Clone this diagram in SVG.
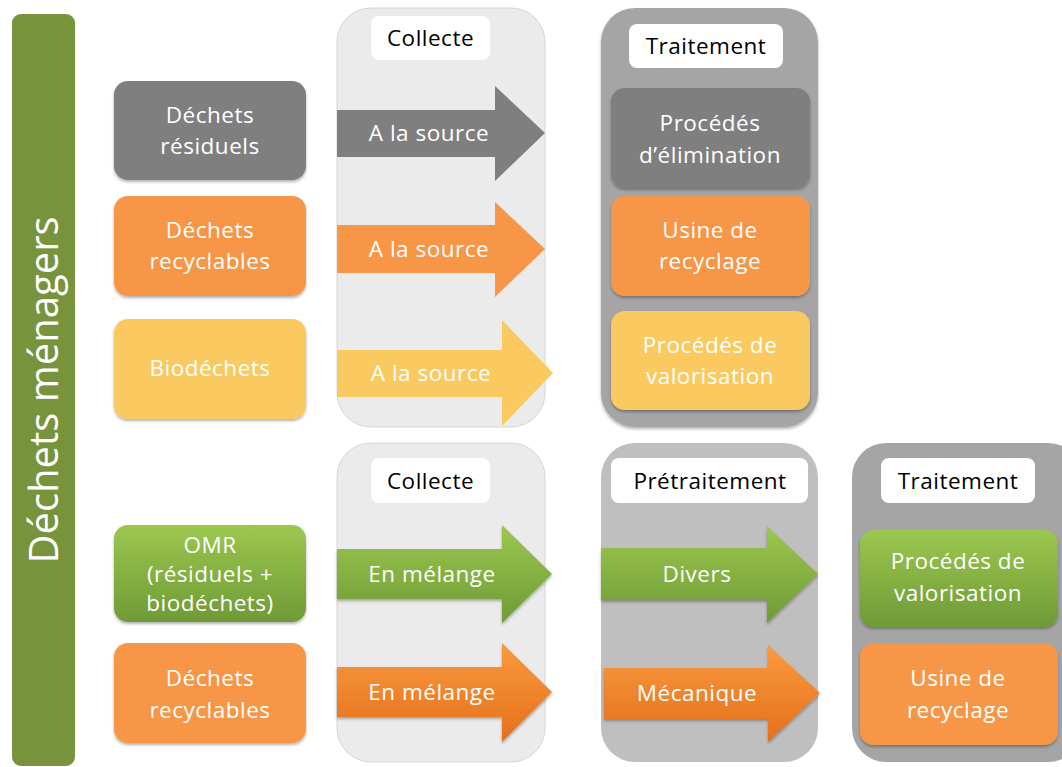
<svg xmlns="http://www.w3.org/2000/svg" width="1062" height="767" viewBox="0 0 1062 767">
<defs>
<style>
text{font-family:"Open Sans","Noto Sans",sans-serif;text-anchor:middle;font-size:22.5px;letter-spacing:0.5px}
.w{fill:#ffffff}
.k{fill:#000000}
.panelL{fill:#EBEBEB;stroke:#D6D6D6;stroke-width:1}
.panelD{fill:#A5A5A5}
.panelM{fill:#BFBFBF}
.lbl{fill:#ffffff}
.gray{fill:#7F7F7F}
.orange{fill:#F79646}
.yellow{fill:#FAC95F}
.green{fill:url(#gGreen)}
.orangeG{fill:url(#gOrange)}
</style>
<linearGradient id="gGreen" x1="0" y1="0" x2="0" y2="1">
<stop offset="0" stop-color="#9CC74F"/>
<stop offset="1" stop-color="#6F9A36"/>
</linearGradient>
<linearGradient id="gOrange" x1="0" y1="0" x2="0" y2="1">
<stop offset="0" stop-color="#FA9A3E"/>
<stop offset="1" stop-color="#E4701C"/>
</linearGradient>
<filter id="sh" x="-10%" y="-10%" width="120%" height="130%">
<feDropShadow dx="0" dy="2" stdDeviation="1.5" flood-color="#000" flood-opacity="0.3"/>
</filter>
</defs>

<g id="title">
<rect x="12" y="14" width="63" height="752" rx="9" fill="#77933C"/>
<text class="w" x="0" y="0" transform="translate(58,390) rotate(-90)" style="font-size:40px;letter-spacing:0">Déchets ménagers</text>
</g>

<g id="panels">
<rect class="panelL" x="337" y="8" width="208" height="419" rx="34"/>
<rect class="lbl" x="371" y="16" width="119" height="44" rx="8"/>
<text class="k" x="430.5" y="46">Collecte</text>
<rect class="panelD" x="601" y="8" width="217" height="419" rx="34" filter="url(#sh)"/>
<rect class="lbl" x="629" y="24" width="154" height="44" rx="8"/>
<text class="k" x="706" y="54">Traitement</text>

<rect class="panelL" x="337" y="443" width="208" height="319" rx="34"/>
<rect class="lbl" x="371" y="458" width="119" height="45" rx="8"/>
<text class="k" x="430.5" y="489">Collecte</text>
<rect class="panelM" x="601" y="443" width="217" height="319" rx="34"/>
<rect class="lbl" x="611" y="458" width="197" height="45" rx="8"/>
<text class="k" x="710" y="489">Prétraitement</text>
<rect class="panelD" x="852" y="443" width="230" height="319" rx="34"/>
<rect class="lbl" x="881" y="458" width="154" height="45" rx="8"/>
<text class="k" x="958" y="489">Traitement</text>
</g>

<g id="sources">
<g id="n-residuels"><rect class="gray" x="114" y="81" width="192" height="99" rx="14" filter="url(#sh)"/>
<text class="w" x="210" y="123">Déchets</text><text class="w" x="210" y="154">résiduels</text></g>
<g id="n-recyclables1"><rect class="orange" x="114" y="196" width="192" height="100" rx="14" filter="url(#sh)"/>
<text class="w" x="210" y="238">Déchets</text><text class="w" x="210" y="269">recyclables</text></g>
<g id="n-bio"><rect class="yellow" x="114" y="319" width="192" height="100" rx="14" filter="url(#sh)"/>
<text class="w" x="210" y="376">Biodéchets</text></g>
<g id="n-omr"><rect class="green" x="114" y="525" width="192" height="97" rx="14" filter="url(#sh)"/>
<text class="w" x="210" y="553">OMR</text><text class="w" x="210" y="582">(résiduels +</text><text class="w" x="210" y="611">biodéchets)</text></g>
<g id="n-recyclables2"><rect class="orange" x="114" y="643" width="192" height="100" rx="14" filter="url(#sh)"/>
<text class="w" x="210" y="686">Déchets</text><text class="w" x="210" y="718">recyclables</text></g>
</g>

<g id="treatments">
<g id="t-elim"><rect class="gray" x="611" y="88" width="199" height="100" rx="14" filter="url(#sh)"/>
<text class="w" x="710" y="131">Procédés</text><text class="w" x="710" y="163">d’élimination</text></g>
<g id="t-recy1"><rect class="orange" x="611" y="196" width="199" height="100" rx="14" filter="url(#sh)"/>
<text class="w" x="710" y="238">Usine de</text><text class="w" x="710" y="269">recyclage</text></g>
<g id="t-valo1"><rect class="yellow" x="611" y="311" width="199" height="99" rx="14" filter="url(#sh)"/>
<text class="w" x="710" y="353">Procédés de</text><text class="w" x="710" y="384">valorisation</text></g>
<g id="t-valo2"><rect class="green" x="860" y="530" width="198" height="97" rx="14" filter="url(#sh)"/>
<text class="w" x="958" y="569">Procédés de</text><text class="w" x="958" y="601">valorisation</text></g>
<g id="t-recy2"><rect class="orange" x="860" y="643" width="198" height="102" rx="14" filter="url(#sh)"/>
<text class="w" x="958" y="686">Usine de</text><text class="w" x="958" y="718">recyclage</text></g>
</g>

<g id="connectors">
<g><path class="gray" d="M337,110 H495 V86 L545,133 L495,181 V157 H337 Z"/>
<text class="w" x="429" y="141">A la source</text></g>
<g><path class="orange" d="M337,225 H495 V202 L545,249 L495,297 V273 H337 Z"/>
<text class="w" x="429" y="257">A la source</text></g>
<g><path class="yellow" d="M337,350 H502 V320 L553,373 L502,426 V397 H337 Z"/>
<text class="w" x="431" y="381">A la source</text></g>
<g><path class="green" d="M337,549 H502 V525 L552,574 L502,623 V599 H337 Z" filter="url(#sh)"/>
<text class="w" x="432" y="582">En mélange</text></g>
<g><path class="orangeG" d="M337,667 H502 V643 L552,692 L502,742 V717 H337 Z" filter="url(#sh)"/>
<text class="w" x="432" y="700">En mélange</text></g>
<g><path class="green" d="M601,548 H767 V526 L818,574 L767,623 V600 H601 Z" filter="url(#sh)"/>
<text class="w" x="697" y="582">Divers</text></g>
<g><path class="orangeG" d="M604,668 H768 V645 L820,693 L768,742 V719 H604 Z" filter="url(#sh)"/>
<text class="w" x="697" y="701">Mécanique</text></g>
</g>
</svg>
